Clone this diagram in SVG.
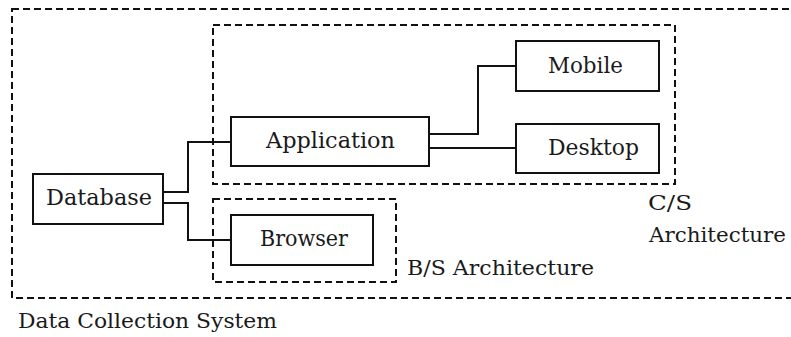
<svg xmlns="http://www.w3.org/2000/svg" width="791" height="337" viewBox="0 0 791 337">
<style>
.bg{fill:#ffffff}
.dash{fill:none;stroke:#111;stroke-width:2;stroke-dasharray:7 4}
.box{fill:#ffffff;stroke:#111;stroke-width:2}
.wire{fill:none;stroke:#111;stroke-width:2}
.t{font-family:'DejaVu Serif','Liberation Serif','Noto Serif',serif;fill:#1a1a1a}
.n{font-size:22px}
.l{font-size:21px}
</style>
<rect class="bg" x="0" y="0" width="791" height="337"/>
<g id="groups">
<rect id="system" class="dash" x="12" y="9" width="785" height="289"/>
<rect id="cs" class="dash" x="213" y="25" width="462" height="159"/>
<rect id="bs" class="dash" x="213" y="199" width="183" height="83"/>
</g>
<g id="connectors">
<polyline class="wire" points="163,192 188,192 188,142 231,142"/>
<polyline class="wire" points="163,203 188,203 188,240 231,240"/>
<polyline class="wire" points="429,134 478,134 478,66 516,66"/>
<polyline class="wire" points="429,148 516,148"/>
</g>
<g id="database">
<rect class="box" x="33" y="174" width="130" height="50"/>
<text class="t n" x="46" y="205" textLength="106" lengthAdjust="spacingAndGlyphs">Database</text>
</g>
<g id="application">
<rect class="box" x="231" y="117" width="198" height="49"/>
<text class="t n" x="266" y="148" textLength="129" lengthAdjust="spacingAndGlyphs">Application</text>
</g>
<g id="mobile">
<rect class="box" x="516" y="41" width="143" height="50"/>
<text class="t n" x="548" y="73" textLength="75" lengthAdjust="spacingAndGlyphs">Mobile</text>
</g>
<g id="desktop">
<rect class="box" x="516" y="124" width="143" height="49"/>
<text class="t n" x="548" y="155" textLength="91" lengthAdjust="spacingAndGlyphs">Desktop</text>
</g>
<g id="browser">
<rect class="box" x="231" y="215" width="142" height="50"/>
<text class="t n" x="260" y="246" textLength="88" lengthAdjust="spacingAndGlyphs">Browser</text>
</g>
<g id="labels">
<text class="t l" x="648" y="210" textLength="44" lengthAdjust="spacingAndGlyphs">C/S</text>
<text class="t l" x="649" y="242" textLength="137" lengthAdjust="spacingAndGlyphs">Architecture</text>
<text class="t l" x="407" y="275" textLength="187" lengthAdjust="spacingAndGlyphs">B/S Architecture</text>
<text class="t l" x="18" y="328" textLength="259" lengthAdjust="spacingAndGlyphs">Data Collection System</text>
</g>
</svg>
